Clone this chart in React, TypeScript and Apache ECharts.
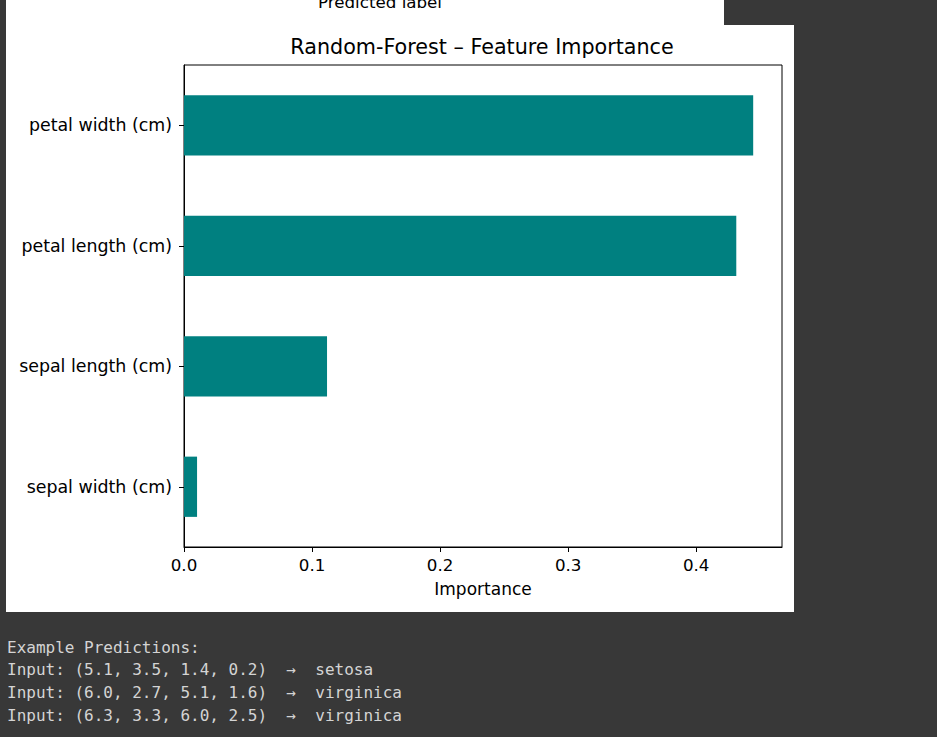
import React, { useEffect, useRef } from "react";
import * as echarts from "echarts";

const features = ["sepal width (cm)", "sepal length (cm)", "petal length (cm)", "petal width (cm)"];
const importances = [0.0102, 0.1117, 0.4313, 0.4445];
const xTicks = [0, 0.1, 0.2, 0.3, 0.4];
const consoleLines = [
  "Example Predictions:",
  "Input: (5.1, 3.5, 1.4, 0.2)  \u2192  setosa",
  "Input: (6.0, 2.7, 5.1, 1.6)  \u2192  virginica",
  "Input: (6.3, 3.3, 6.0, 2.5)  \u2192  virginica",
];
const consoleY = [647, 669.5, 692, 715];

const FONT = "DejaVu Sans";

export default function App() {
  const ref = useRef<HTMLDivElement>(null);
  useEffect(() => {
    if (!ref.current) return;
    const chart = echarts.init(ref.current, null, { renderer: "svg" });
    chart.setOption({
      animation: false,
      backgroundColor: "#383838",
      textStyle: { fontFamily: FONT },
      graphic: [
        { type: "rect", z: -10, shape: { x: 6, y: 0, width: 718, height: 25 }, style: { fill: "#ffffff" } },
        { type: "rect", z: -10, shape: { x: 6, y: 25, width: 788, height: 587 }, style: { fill: "#ffffff" } },
        {
          type: "text", x: 380, y: 2,
          style: { text: "Predicted label", fontFamily: FONT, fontSize: 16.7, fill: "#000", align: "center", verticalAlign: "middle" },
        },
        {
          type: "text", x: 482, y: 47,
          style: { text: "Random-Forest \u2013 Feature Importance", fontFamily: FONT, fontSize: 20.7, fill: "#000", align: "center", verticalAlign: "middle" },
        },
        ...consoleLines.map((t, i) => ({
          type: "text", x: 7, y: consoleY[i],
          style: { text: t, fontFamily: "DejaVu Sans Mono", fontSize: 16, fill: "#d4d4d4", align: "left", verticalAlign: "middle" },
        })),
      ],
      grid: {
        left: 184, top: 65, width: 598, height: 482,
        show: true, borderColor: "#000", borderWidth: 1, backgroundColor: "transparent",
      },
      xAxis: {
        type: "value", min: 0, max: 0.467,
        name: "Importance", nameLocation: "middle", nameGap: 33,
        nameTextStyle: { fontFamily: FONT, fontSize: 17, color: "#000" },
        axisLine: { show: true, lineStyle: { color: "#000", width: 1 } },
        axisTick: { show: true, length: 5, lineStyle: { color: "#000" }, customValues: xTicks },
        axisLabel: {
          fontFamily: FONT, fontSize: 16.7, color: "#000", margin: 9,
          customValues: xTicks, formatter: (v: number) => v.toFixed(1),
        },
        splitLine: { show: false },
      },
      yAxis: {
        type: "category", data: features,
        axisLine: { show: true, lineStyle: { color: "#000", width: 1 } },
        axisTick: { show: true, length: 5, alignWithLabel: true, lineStyle: { color: "#000" } },
        axisLabel: { fontFamily: FONT, fontSize: 17.4, color: "#000", margin: 12 },
        splitLine: { show: false },
      },
      series: [
        {
          type: "bar", data: importances, barWidth: "50%",
          itemStyle: { color: "#008080" },
        },
      ],
    });
    return () => chart.dispose();
  }, []);
  return <div ref={ref} style={{ position: "fixed", left: 0, top: 0, width: 937, height: 737 }} />;
}
